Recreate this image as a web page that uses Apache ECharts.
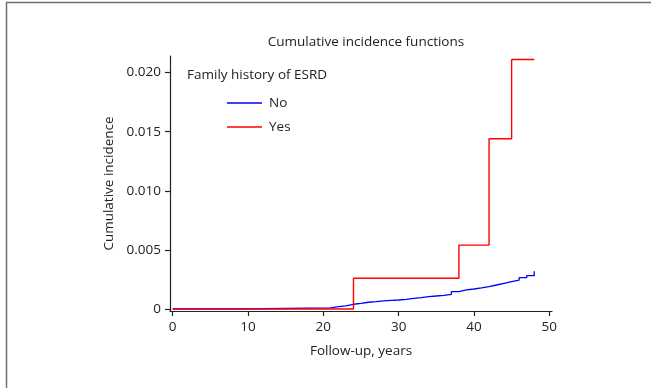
<!DOCTYPE html>
<html>
<head>
<meta charset="utf-8">
<script src="https://cdn.jsdelivr.net/npm/echarts@6/dist/echarts.min.js"></script>
<style>
  html, body { margin: 0; padding: 0; background: #fff; }
  #chart { width: 651px; height: 388px; }
</style>
</head>
<body>
<div id="chart"></div>
<script>
// Cumulative incidence step functions by family history of ESRD
const groupNames = ['No', 'Yes'];

// "No" group: event times (years) and cumulative incidence after each step
const noTimes = [0, 9, 21, 22, 23, 24, 25, 26, 27, 28, 29, 30, 31, 32, 33, 34, 35, 36, 37, 38, 39, 40, 41, 42, 43, 44, 45, 46, 47, 48];
const noValues = [0, 0.0001, 0.0002, 0.00026, 0.0004, 0.00048, 0.00057, 0.00062, 0.00068, 0.00073, 0.00076, 0.00082, 0.0009, 0.00096, 0.00104, 0.0011, 0.00116, 0.00124, 0.00147, 0.00161, 0.00169, 0.00178, 0.00189, 0.00203, 0.00217, 0.00231, 0.00245, 0.00265, 0.00282, 0.0032];

// "Yes" group
const yesTimes = [0, 24, 38, 42, 45, 48];
const yesValues = [0, 0.0026, 0.0054, 0.0144, 0.0211, 0.0211];

const xTicks = [0, 10, 20, 30, 40, 50];
const yTicks = [0, 0.005, 0.010, 0.015, 0.020];

const toPairs = (xs, ys) => xs.map((x, i) => [x, ys[i]]);

const font = '"Open Sans", "Noto Sans", sans-serif';
const textColor = '#222';
const fs = 13.5;

const chart = echarts.init(document.getElementById('chart'), null, { renderer: 'canvas' });

chart.setOption({
  animation: false,
  backgroundColor: '#fff',
  textStyle: { fontFamily: font },
  title: [
    {
      text: 'Cumulative incidence functions',
      left: 361, top: 30, textAlign: 'center',
      textStyle: { fontFamily: font, fontSize: fs, fontWeight: 'normal', color: textColor }
    },
    {
      text: 'Family history of ESRD',
      left: 182, top: 63,
      textStyle: { fontFamily: font, fontSize: fs, fontWeight: 'normal', color: textColor }
    }
  ],
  legend: {
    orient: 'vertical',
    left: 222, top: 90,
    icon: 'rect',
    itemWidth: 35, itemHeight: 1.5,
    itemGap: 8,
    textStyle: { fontFamily: font, fontSize: fs, color: textColor, lineHeight: 16, padding: [0, 0, 0, 2] },
    data: groupNames
  },
  grid: { left: 170, right: 99, top: 56, bottom: 77 },
  xAxis: {
    type: 'value',
    min: -0.36, max: 50.36,
    name: 'Follow-up, years',
    nameLocation: 'middle', nameGap: 33,
    nameTextStyle: { fontFamily: font, fontSize: fs, color: textColor },
    splitLine: { show: false },
    axisLine: { onZero: false, lineStyle: { color: '#222', width: 1.2 } },
    axisTick: { length: 5, lineStyle: { color: '#222', width: 1.2 }, customValues: xTicks },
    axisLabel: { margin: 9, fontSize: fs, color: textColor, customValues: xTicks }
  },
  yAxis: {
    type: 'value',
    min: -0.00017, max: 0.0214,
    name: 'Cumulative incidence',
    nameLocation: 'middle', nameGap: 53,
    nameTextStyle: { fontFamily: font, fontSize: fs, color: textColor },
    splitLine: { show: false },
    axisLine: { show: true, onZero: false, lineStyle: { color: '#222', width: 1.2 } },
    axisTick: { show: true, length: 5, lineStyle: { color: '#222', width: 1.2 }, customValues: yTicks },
    axisLabel: {
      margin: 9, fontSize: fs, color: textColor, customValues: yTicks,
      formatter: v => (Math.abs(v) < 1e-9 ? '0' : v.toFixed(3))
    }
  },
  graphic: [
    {
      type: 'polyline', silent: true,
      shape: { points: [[6.5, 388], [6.5, 2.5], [651, 2.5]] },
      style: { stroke: '#6e6e6e', lineWidth: 1.5, fill: null }
    }
  ],
  series: [
    {
      name: groupNames[0], type: 'line', step: 'end', showSymbol: false,
      data: toPairs(noTimes, noValues),
      lineStyle: { color: '#0000ff', width: 1.3 }, itemStyle: { color: '#0000ff' },
      z: 2
    },
    {
      name: groupNames[1], type: 'line', step: 'end', showSymbol: false,
      data: toPairs(yesTimes, yesValues),
      lineStyle: { color: '#ff0000', width: 1.4 }, itemStyle: { color: '#ff0000' },
      z: 3
    }
  ]
});
</script>
</body>
</html>
